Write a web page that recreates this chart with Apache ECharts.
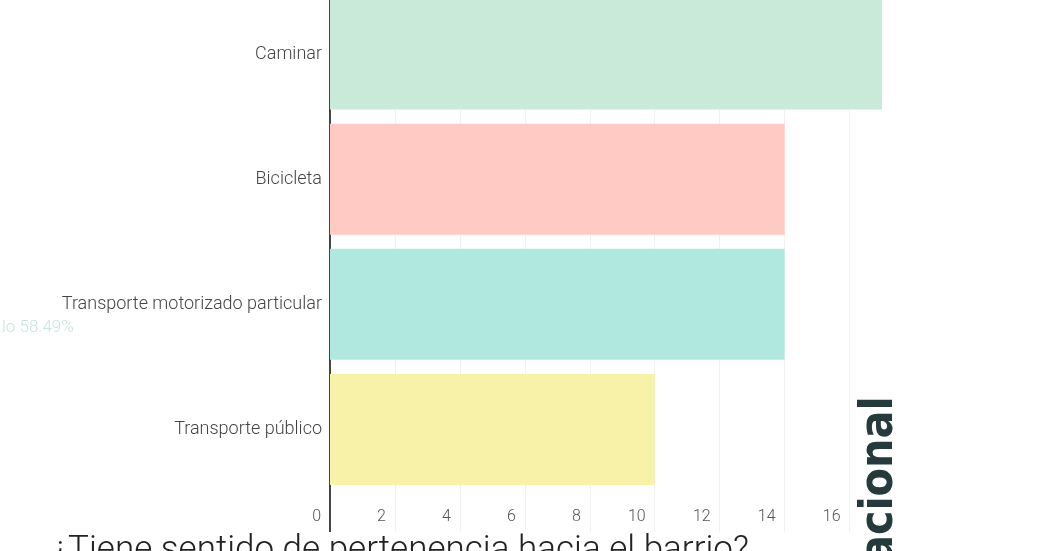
<!DOCTYPE html>
<html>
<head>
<meta charset="utf-8">
<script src="https://cdn.jsdelivr.net/npm/echarts@6/dist/echarts.min.js"></script>
<style>
  html, body { margin: 0; padding: 0; background: #fff; overflow: hidden; }
  /* chart shifted up a little so the top bar is clipped like the source */
  #chart { width: 1047px; height: 561px; margin-top: -10px; }
</style>
</head>
<body>
<div id="chart"></div>
<script>
var categories = ['Caminar', 'Bicicleta', 'Transporte motorizado particular', 'Transporte público'];
var values = [17, 14, 14, 10];
var barColors = ['#c9e9d9', '#ffc9c4', '#b0e8df', '#f7f2a7'];
var tickValues = [0, 2, 4, 6, 8, 10, 12, 14, 16];

var chart = echarts.init(document.getElementById('chart'));

var option = {
  animation: false,
  backgroundColor: '#fff',
  textStyle: { fontFamily: 'Roboto' },
  title: {
    text: '¿Tiene sentido de pertenencia hacia el barrio?',
    left: 52,
    top: 544,
    padding: 0,
    textStyle: { fontFamily: 'Roboto', fontWeight: 300, fontSize: 35, color: '#222' }
  },
  grid: { left: 330, right: 165, top: 1.5, bottom: 59, containLabel: false },
  xAxis: [
    {
      type: 'value',
      min: 0,
      max: 17,
      interval: 2,
      axisLine: { show: false },
      axisTick: {
        show: true,
        customValues: [2, 4, 6, 8, 10, 12, 14, 16],
        length: 40,
        lineStyle: { color: '#f1f1f1', width: 1 }
      },
      splitLine: { show: true, lineStyle: { color: '#f1f1f1', width: 1 } },
      axisLabel: {
        customValues: tickValues,
        align: 'right',
        padding: [0, 9, 0, 0],
        margin: 17,
        color: '#555',
        fontSize: 16,
        fontWeight: 300
      }
    },
    {
      // only draws the axis line stub below the plot
      type: 'value',
      position: 'bottom',
      min: 0,
      max: 17,
      axisLine: { show: false },
      axisLabel: { show: false },
      splitLine: { show: false },
      axisTick: {
        show: true,
        customValues: [0],
        length: 40,
        lineStyle: { color: '#444', width: 2 }
      }
    }
  ],
  yAxis: {
    type: 'category',
    inverse: true,
    data: categories,
    axisLine: { show: true, lineStyle: { color: '#444', width: 2 } },
    axisTick: { show: false },
    axisLabel: { margin: 8, color: '#444', fontSize: 18, fontWeight: 300 }
  },
  series: [
    {
      type: 'bar',
      xAxisIndex: 0,
      barCategoryGap: '11.2%',
      data: values.map(function(v, i) {
        return { value: v, itemStyle: { color: barColors[i] } };
      })
    }
  ],
  graphic: [
    {
      type: 'text',
      x: 2,
      y: 338,
      style: {
        text: 'lo 58.49%',
        fill: '#c8e4e0',
        font: '300 17px Roboto',
        textVerticalAlign: 'middle'
      }
    },
    {
      type: 'text',
      x: 903,
      y: 573,
      rotation: Math.PI / 2,
      style: {
        text: 'acional',
        fill: '#243a3d',
        font: 'bold 46px "DejaVu Sans Condensed"',
        textAlign: 'left',
        textVerticalAlign: 'bottom'
      }
    }
  ]
};

chart.setOption(option);
</script>
</body>
</html>
